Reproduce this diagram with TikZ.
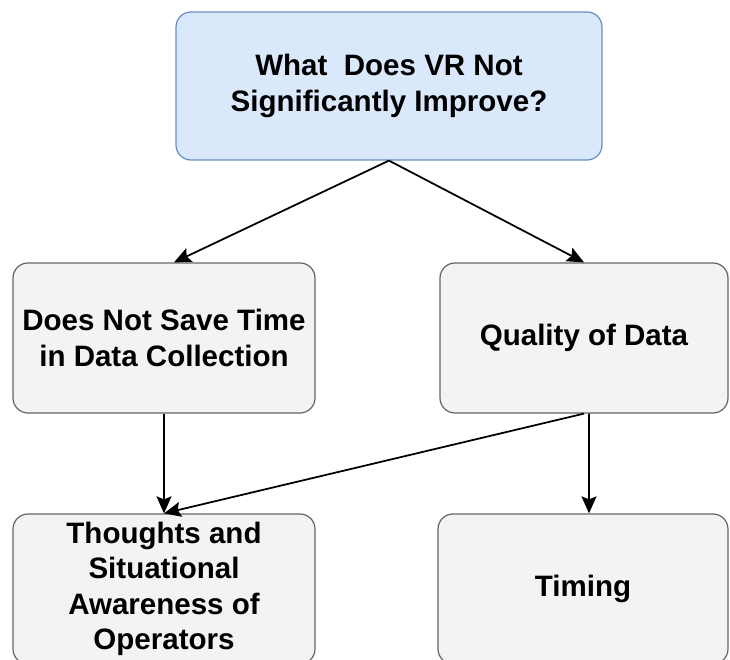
\documentclass[tikz,border=0pt]{standalone}
\usepackage{fontspec}
\setmainfont{Liberation Sans}
\usetikzlibrary{arrows.meta,positioning,calc}
\definecolor{qBlue}{HTML}{DAE8FC}
\definecolor{qBlueLine}{HTML}{6C8EBF}
\definecolor{aGray}{HTML}{F3F3F3}
\definecolor{aGrayLine}{HTML}{666666}
\tikzset{
	qbox/.style={
		draw=qBlueLine,
		fill=qBlue,
		rounded corners=0.3cm,
		align=center,
		inner sep=2pt,
		line width=0.7pt,
		font=\fontsize{16.8}{20.2}\selectfont\bfseries
	},
	abox/.style={
		qbox,
		draw=aGrayLine,
		fill=aGray
	},
	aarr/.style={-{Stealth[length=0.34cm, width=0.3cm, inset=0.06cm]}, line width=1pt, black}
}
\begin{document}
\begin{tikzpicture}[x=1cm, y=1cm]
		\useasboundingbox (0,0) rectangle (14.6,13.2);
		\begin{scope}
		\clip (0,0) rectangle (14.6,13.2);
		\node[qbox, minimum width=8.52cm, minimum height=2.96cm] (q) at (7.78,11.48) {What~ Does VR Not\\Significantly Improve?};
		\node[abox, minimum width=6.04cm, minimum height=3.0cm] (time) at (3.28,6.44) {Does Not Save Time\\in Data Collection};
		\node[abox, minimum width=5.76cm, minimum height=3.0cm] (qual) at (11.68,6.44) {Quality of Data};
		\node[abox, minimum width=6.04cm, minimum height=3.0cm] (aware) at (3.28,1.42) {Thoughts and\\Situational\\Awareness of\\Operators};
		\node[abox, minimum width=5.8cm, minimum height=3.0cm] (timing) at (11.66,1.42) {Timing};
		\end{scope}
		\draw[aarr] (q.south) -- ([xshift=0.2cm]time.north);
		\draw[aarr] (q.south) -- (qual.north);
		\draw[aarr] (time.south) -- (aware.north);
		\draw[aarr] ([xshift=0.1cm]qual.south) -- ([xshift=0.12cm]timing.north);
		\draw[aarr] (qual.south) -- (aware.north);
	\end{tikzpicture}
\end{document}
